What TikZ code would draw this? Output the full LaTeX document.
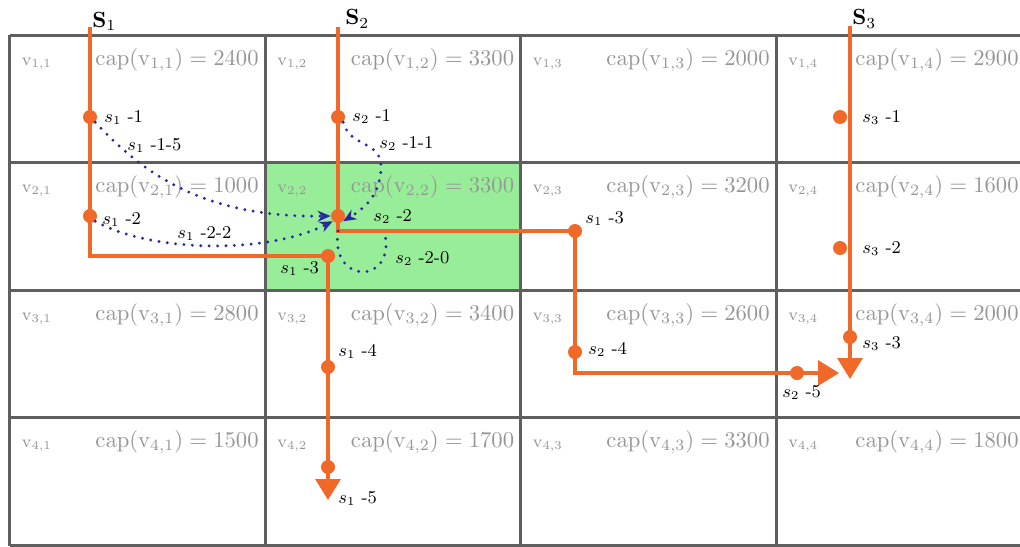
\RequirePackage{fix-cm}
\documentclass[tikz,border=0pt]{standalone}
\usetikzlibrary{arrows.meta}
\definecolor{org}{RGB}{240,105,40}
\definecolor{blu}{RGB}{40,40,160}
\definecolor{gridc}{RGB}{95,95,95}
\definecolor{capc}{RGB}{150,150,150}
\definecolor{grn}{RGB}{152,238,152}
\begin{document}
\begin{tikzpicture}[x=0.5pt,y=-0.5pt,
  gridline/.style={draw=gridc,line width=1.5pt},
  captext/.style={text=capc,font=\fontsize{11.3}{13}\selectfont,anchor=base east,inner sep=0pt},
  vlab/.style={text=capc,font=\fontsize{8.6}{11}\selectfont,anchor=base west,inner sep=0pt},
  dot/.style={circle,fill=org,inner sep=0pt,minimum size=7pt},
  dlab/.style={font=\fontsize{9}{11}\selectfont,inner sep=0pt,anchor=base west},
  route/.style={draw=org,line width=1.6pt},
  rarrow/.style={route,-{Triangle[width=12.5pt,length=10.5pt]}},
  flow/.style={draw=blu,line width=1.6pt,dash pattern=on 0pt off 4.2pt,line cap=round,-{Stealth[length=6.5pt,width=5.5pt]}},
  loopflow/.style={draw=blu,line width=1.6pt,dash pattern=on 0pt off 4.2pt,line cap=round},
  slab/.style={font=\fontsize{11}{13}\selectfont,anchor=base west,inner sep=0pt}
]
\useasboundingbox (0,0) rectangle (1020,546);
\fill[white] (0,0) rectangle (1020,546);
% highlighted cell
\fill[grn] (265,164) rectangle (520.5,291);
% grid
\foreach \i in {0,...,4}{
  \draw[gridline] (9.5,{35+127.5*\i}) -- (1040,{35+127.5*\i});
  \draw[gridline] ({9.5+255.5*\i},35) -- ({9.5+255.5*\i},546);
}
% cell texts
\foreach \r/\c/\v in {1/1/2400,1/2/3300,1/3/2000,1/4/2900,
                      2/1/1000,2/2/3300,2/3/3200,2/4/1600,
                      3/1/2800,3/2/3400,3/3/2600,3/4/2000,
                      4/1/1500,4/2/1700,4/3/3300,4/4/1800}{
  \node[captext] (cap\r\c) at ({min(9.5+255.5*\c-6,1019)},{35+127.5*(\r-1)+30}) {$\mathrm{cap}(\mathrm{v}_{\r,\c}) = \v$};
  \node[vlab] (v\r\c) at ({9.5+255.5*(\c-1)+12},{35+127.5*(\r-1)+30}) {$\mathrm{v}_{\r,\c}$};
}
% route corner coordinates
\coordinate (t1) at (90,27);
\coordinate (c1a) at (90,256);
\coordinate (e1) at (328,500);
\coordinate (t2) at (338,27);
\coordinate (c2a) at (338,231);
\coordinate (c2b) at (575,231);
\coordinate (c2c) at (575,373);
\coordinate (e2) at (839,373);
\coordinate (t3) at (850,26);
\coordinate (e3) at (850,379);
% route labels
\node[slab] (S1) at (92,27) {$\mathbf{S}_1$};
\node[slab] (S2) at (345,25) {$\mathbf{S}_2$};
\node[slab] (S3) at (852,25) {$\mathbf{S}_3$};
% dots
\node[dot] (d11) at (90,117) {};
\node[dot] (d12) at (90,216) {};
\node[dot] (d13) at (328,256) {};
\node[dot] (d14) at (328,367) {};
\node[dot] (d15) at (328,467) {};
\node[dot] (d21) at (338,117) {};
\node[dot] (d22) at (338,216) {};
\node[dot] (d13b) at (575,231) {};
\node[dot] (d24) at (575,352) {};
\node[dot] (d25) at (797,373) {};
\node[dot] (d31) at (840,117) {};
\node[dot] (d32) at (840,248) {};
\node[dot] (d33) at (850,337) {};
% routes
\draw[rarrow] (t1) -- (c1a) -- (d13.center) -- (e1);
\draw[rarrow] (t2) -- (c2a) -- (c2b) -- (c2c) -- (e2);
\draw[rarrow] (t3) -- (e3);
% dot labels
\node[dlab] (l11) at (104,122) {$s_1$ -1};
\node[dlab] (l12) at (102,224) {$s_1$ -2};
\node[dlab] (l13) at (280,273) {$s_1$ -3};
\node[dlab] (l14) at (338,356) {$s_1$ -4};
\node[dlab] (l15) at (338,503) {$s_1$ -5};
\node[dlab] (l21) at (352,121) {$s_2$ -1};
\node[dlab] (l22) at (373,221) {$s_2$ -2};
\node[dlab] (l13b) at (585,223) {$s_1$ -3};
\node[dlab] (l24) at (588,354) {$s_2$ -4};
\node[dlab] (l25) at (782,397) {$s_2$ -5};
\node[dlab] (l31) at (862,122) {$s_3$ -1};
\node[dlab] (l32) at (862,253) {$s_3$ -2};
\node[dlab] (l33) at (862,348) {$s_3$ -3};
% flow labels
\node[dlab] (f115) at (127,150) {$s_1$ -1-5};
\node[dlab] (f122) at (177,238) {$s_1$ -2-2};
\node[dlab] (f211) at (379,148) {$s_2$ -1-1};
\node[dlab] (f220) at (395,263) {$s_2$ -2-0};
% flows
\draw[flow] (d11.south east) .. controls (140,170) and (200,218) .. (d22.west);
\draw[flow] (d12.south east) .. controls (150,252) and (265,255) .. (d22.south west);
\draw[flow] (d21.south east) .. controls (350,148) and (382,140) .. (381,168) .. controls (380,195) and (365,208) .. (d22.south east);
\draw[loopflow] (c2a) .. controls (330,285) and (395,285) .. (385,234);
\end{tikzpicture}
\end{document}
